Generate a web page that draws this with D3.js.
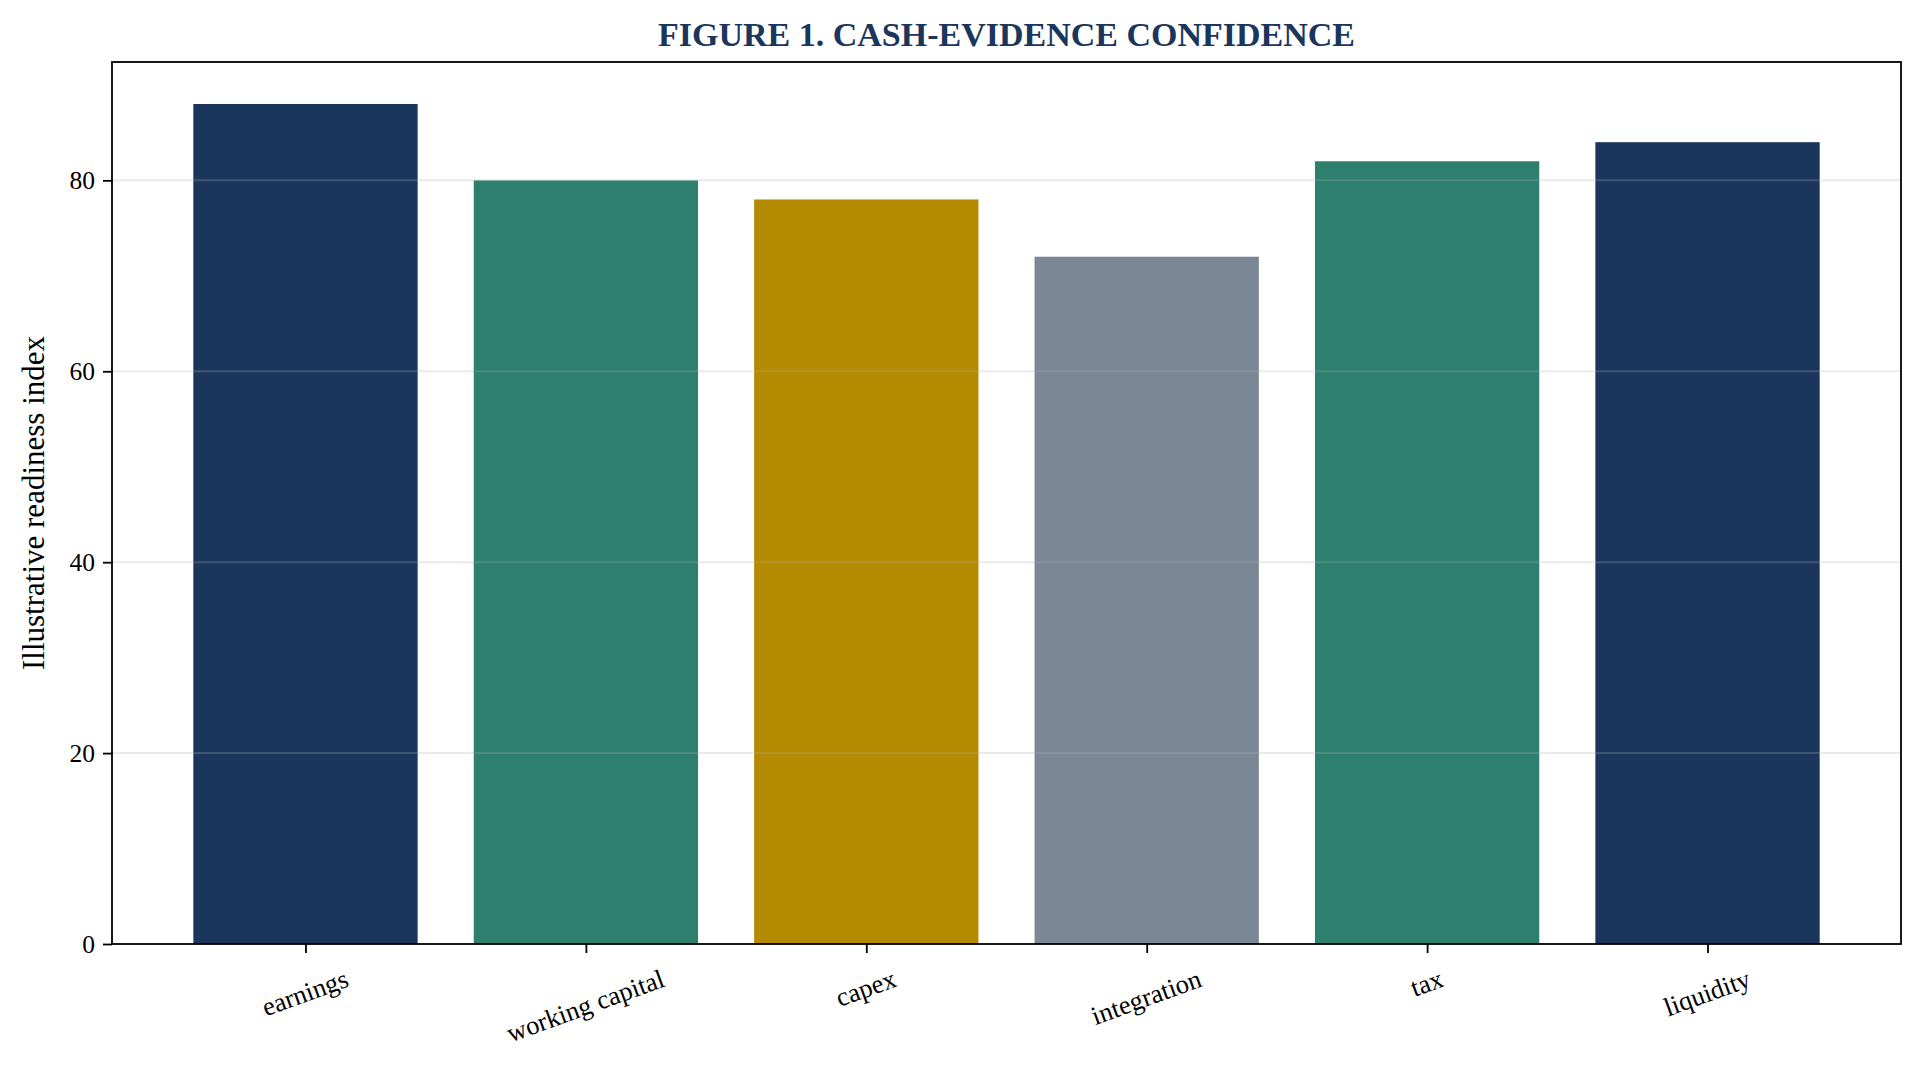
<!DOCTYPE html>
<html>
<head>
<meta charset="utf-8">
<script src="https://cdn.jsdelivr.net/npm/d3@7"></script>
<style>
  html, body { margin: 0; padding: 0; background: #fff; }
  svg { display: block; font-family: "Liberation Serif", "DejaVu Serif", serif; }
</style>
</head>
<body>
<div id="chart"></div>
<script>
// values
const categories = ["earnings", "working capital", "capex", "integration", "tax", "liquidity"];
const readiness = [88, 80, 78, 72, 82, 84];
const barColors = ["#1A365D", "#2E7F6E", "#B38A00", "#7A8896", "#2E7F6E", "#1A365D"];
const yTicks = [0, 20, 40, 60, 80];

const W = 1924, H = 1077;
const m = { top: 62, right: 23, bottom: 133, left: 112 };
const iw = W - m.left - m.right, ih = H - m.top - m.bottom;

const svg = d3.select("#chart").append("svg")
  .attr("width", W).attr("height", H).attr("viewBox", `0 0 ${W} ${H}`);

const g = svg.append("g").attr("transform", `translate(${m.left},${m.top})`);

// matplotlib-like limits: bars of width 0.8, 5% margins
const n = categories.length;
const lo = -0.4, hi = n - 1 + 0.4, pad = (hi - lo) * 0.05;
const x = d3.scaleLinear().domain([lo - pad, hi + pad]).range([0, iw]);
const y = d3.scaleLinear().domain([0, d3.max(readiness) * 1.05]).range([ih, 0]);

g.selectAll("rect.bar")
  .data(readiness).join("rect")
  .attr("class", "bar")
  .attr("x", (d, i) => x(i - 0.4))
  .attr("width", x(0.8) - x(0))
  .attr("y", d => y(d))
  .attr("height", d => y(0) - y(d))
  .attr("fill", (d, i) => barColors[i]);

// horizontal grid over the bars
g.append("g").selectAll("line")
  .data(yTicks.slice(1)).join("line")
  .attr("x1", 0).attr("x2", iw)
  .attr("y1", d => y(d)).attr("y2", d => y(d))
  .attr("stroke", "#b0b0b0").attr("stroke-opacity", 0.25).attr("stroke-width", 2);

// axes
const yAxis = g.append("g")
  .call(d3.axisLeft(y).tickValues(yTicks).tickSize(9).tickPadding(8).tickFormat(d3.format("d")));
yAxis.select(".domain").remove();
yAxis.selectAll("line").attr("stroke", "#000").attr("stroke-width", 1.8);
yAxis.selectAll("text").attr("font-size", 25.5).attr("fill", "#000")
  .attr("font-family", "Liberation Serif, serif");

const xAxis = g.append("g").attr("transform", `translate(0,${ih})`)
  .call(d3.axisBottom(x).tickValues(d3.range(n)).tickSize(9).tickFormat(i => categories[i]));
xAxis.select(".domain").remove();
xAxis.selectAll("line").attr("stroke", "#000").attr("stroke-width", 1.8);

// rotated labels: top of the rotated box sits at a fixed gap below the axis
const ang = 20 * Math.PI / 180, labelH = 26.5 * 0.9, labelTop = 25;
xAxis.selectAll("text")
  .attr("font-size", 26.5).attr("fill", "#000")
  .attr("font-family", "Liberation Serif, serif")
  .attr("text-anchor", "middle")
  .attr("dy", null).attr("y", 0)
  .attr("dominant-baseline", "middle")
  .attr("transform", function () {
    const w = this.getComputedTextLength();
    const half = (w * Math.sin(ang) + labelH * Math.cos(ang)) / 2;
    return `translate(0,${labelTop + half}) rotate(-20)`;
  });

// frame
g.append("rect").attr("width", iw).attr("height", ih)
  .attr("fill", "none").attr("stroke", "#000").attr("stroke-width", 1.8);

// labels
svg.append("text")
  .attr("x", m.left + iw / 2).attr("y", 46)
  .attr("text-anchor", "middle")
  .attr("font-size", 34).attr("font-weight", "bold").attr("fill", "#1A365D")
  .text("FIGURE 1. CASH-EVIDENCE CONFIDENCE");

svg.append("text")
  .attr("transform", `translate(44,${m.top + ih / 2}) rotate(-90)`)
  .attr("text-anchor", "middle")
  .attr("font-size", 31).attr("fill", "#000")
  .text("Illustrative readiness index");
</script>
</body>
</html>
